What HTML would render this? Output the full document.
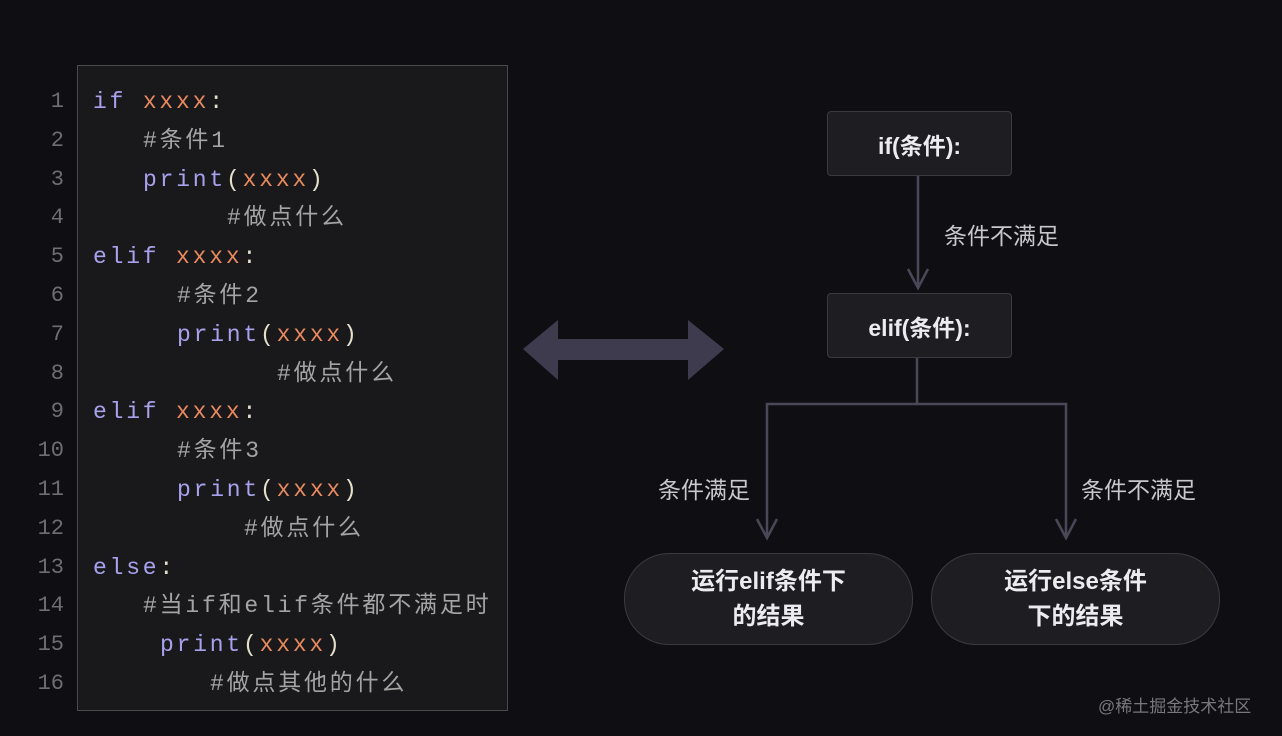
<!DOCTYPE html>
<html><head><meta charset="utf-8"><style>
body{margin:0;width:1282px;height:736px;background:#0f0f13;position:relative;overflow:hidden;font-family:"Liberation Sans","Noto Sans CJK SC",sans-serif}
.code{position:absolute;left:77px;top:65px;width:431px;height:646px;background:#19191b;border:1.5px solid #4a4a4e;box-sizing:border-box}
.ln,.c{position:absolute;font-family:"Liberation Mono","Noto Sans CJK SC",monospace;font-size:23px;line-height:28px;white-space:pre}
.ln{color:#6e6e72;width:30px;text-align:right;left:34px;font-size:22px}
.c{letter-spacing:2.8px}
.k{color:#a8a2ee}.x{color:#e88a5e}.p{color:#e4e0cc}.m{color:#a4a4a4}
.box{position:absolute;background:#1d1d22;border:1.5px solid #3a3a40;border-radius:4px;color:#ececf0;font-size:23px;font-weight:bold;display:flex;align-items:center;justify-content:center}
.pill{position:absolute;background:#1d1d22;border:1.5px solid #3a3a40;border-radius:45px;color:#ececf0;font-size:24px;font-weight:bold;display:flex;align-items:center;justify-content:center;text-align:center;line-height:35px}
.lbl{position:absolute;color:#c8c8cc;font-size:23px}
</style></head><body>
<div class="code"></div>
<div class="ln" style="top:88px">1</div>
<div class="ln" style="top:127px">2</div>
<div class="ln" style="top:166px">3</div>
<div class="ln" style="top:204px">4</div>
<div class="ln" style="top:243px">5</div>
<div class="ln" style="top:282px">6</div>
<div class="ln" style="top:321px">7</div>
<div class="ln" style="top:360px">8</div>
<div class="ln" style="top:398px">9</div>
<div class="ln" style="top:437px">10</div>
<div class="ln" style="top:476px">11</div>
<div class="ln" style="top:515px">12</div>
<div class="ln" style="top:554px">13</div>
<div class="ln" style="top:592px">14</div>
<div class="ln" style="top:631px">15</div>
<div class="ln" style="top:670px">16</div>

<div class="c" style="left:93px;top:88px"><span class="k">if</span> <span class="x">xxxx</span><span class="p">:</span></div>
<div class="c m" style="left:143px;top:127px">#条件1</div>
<div class="c" style="left:143px;top:166px"><span class="k">print</span><span class="p">(</span><span class="x">xxxx</span><span class="p">)</span></div>
<div class="c m" style="left:227px;top:204px">#做点什么</div>
<div class="c" style="left:93px;top:243px"><span class="k">elif</span> <span class="x">xxxx</span><span class="p">:</span></div>
<div class="c m" style="left:177px;top:282px">#条件2</div>
<div class="c" style="left:177px;top:321px"><span class="k">print</span><span class="p">(</span><span class="x">xxxx</span><span class="p">)</span></div>
<div class="c m" style="left:277px;top:360px">#做点什么</div>
<div class="c" style="left:93px;top:398px"><span class="k">elif</span> <span class="x">xxxx</span><span class="p">:</span></div>
<div class="c m" style="left:177px;top:437px">#条件3</div>
<div class="c" style="left:177px;top:476px"><span class="k">print</span><span class="p">(</span><span class="x">xxxx</span><span class="p">)</span></div>
<div class="c m" style="left:244px;top:515px">#做点什么</div>
<div class="c" style="left:93px;top:554px"><span class="k">else</span><span class="p">:</span></div>
<div class="c m" style="left:143px;top:592px">#当if和elif条件都不满足时</div>
<div class="c" style="left:160px;top:631px"><span class="k">print</span><span class="p">(</span><span class="x">xxxx</span><span class="p">)</span></div>
<div class="c m" style="left:210px;top:670px">#做点其他的什么</div>

<svg style="position:absolute;left:0;top:0" width="1282" height="736">
<polygon points="523,349 558,320 558,339 688,339 688,320 724,349 688,380 688,360 558,360 558,380" fill="#3e3b4e"/>
<g stroke="#4a4858" stroke-width="2.5" fill="none">
<line x1="918" y1="174" x2="918" y2="287"/>
<polyline points="908,269 918,288 928,269"/>
<polyline points="917,356 917,404"/>
<polyline points="767,538 767,404 1066,404 1066,538"/>
<polyline points="757,519 767,538 777,519"/>
<polyline points="1056,519 1066,538 1076,519"/>
</g>
</svg>
<div class="box" style="left:827px;top:111px;width:183px;height:63px">if(条件):</div>
<div class="box" style="left:827px;top:293px;width:183px;height:63px">elif(条件):</div>
<div class="lbl" style="left:944px;top:217px">条件不满足</div>
<div class="lbl" style="left:658px;top:471px">条件满足</div>
<div class="lbl" style="left:1081px;top:471px">条件不满足</div>
<div class="pill" style="left:624px;top:553px;width:287px;height:90px">运行elif条件下<br>的结果</div>
<div class="pill" style="left:931px;top:553px;width:287px;height:90px">运行else条件<br>下的结果</div>
<div class="lbl" style="left:1098px;top:692px;font-size:17px;color:#77777c">@稀土掘金技术社区</div>
</body></html>
